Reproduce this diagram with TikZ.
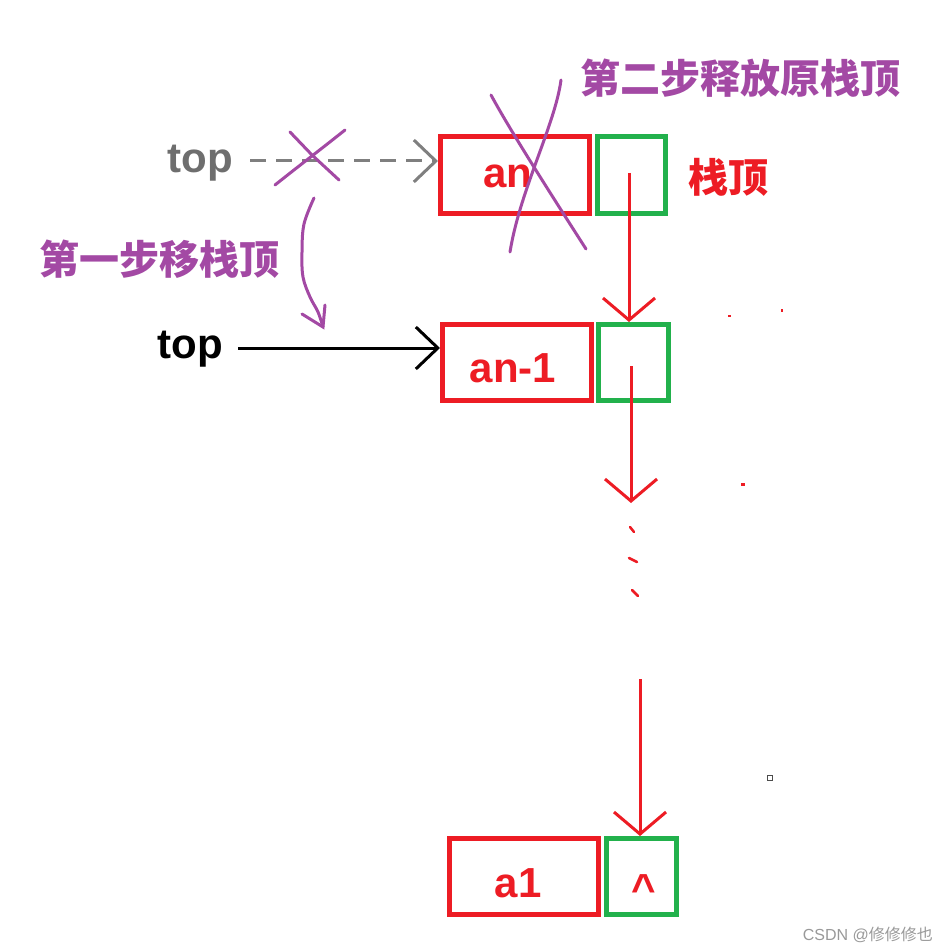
\documentclass[tikz,border=0pt]{standalone}
\usepackage{fontspec}
\setmainfont{Liberation Sans}
\newfontfamily\cjk{Noto Sans CJK SC}
\usetikzlibrary{arrows.meta}
\definecolor{pred}{RGB}{237,28,36}
\definecolor{pgreen}{RGB}{34,177,76}
\definecolor{ppurple}{RGB}{163,73,164}
\definecolor{pgray}{RGB}{127,127,127}
\definecolor{tgray}{RGB}{110,110,110}
\begin{document}
\begin{tikzpicture}[x=1pt,y=-1pt,
  databox/.style={draw=pred,line width=5pt,minimum width=149pt,minimum height=76pt,inner sep=0pt},
  ptrbox/.style={draw=pgreen,line width=5pt,minimum height=76pt,inner sep=0pt},
  dtext/.style={text=pred,font=\fontsize{42}{42}\selectfont\bfseries,anchor=base,inner sep=0pt},
  toptext/.style={font=\fontsize{42}{42}\selectfont\bfseries,anchor=base,inner sep=0pt},
  cjklabel/.style={font=\cjk\fontsize{40}{40}\selectfont\bfseries,anchor=base,inner sep=0pt},
  redarrow/.style={draw=pred,line width=3pt,-{Straight Barb[length=22pt,width=52pt,line width=3pt]}},
  ptrarrow/.style={line width=3pt,-{Straight Barb[length=22pt,width=42pt,line width=3pt]}},
  pstroke/.style={draw=ppurple,line width=3pt,line cap=round},
  speck/.style={fill=pred,draw=none}
]
\path[use as bounding box,fill=white] (0,0) rectangle (950,952);

% boxes
\node[databox] (an) at (515,175) {};
\node[ptrbox,minimum width=68pt] (ang) at (631.5,175) {};
\node[databox] (an1) at (517,362.5) {};
\node[ptrbox,minimum width=70pt] (an1g) at (633.5,362.5) {};
\node[databox] (a1) at (524,876.5) {};
\node[ptrbox,minimum width=70pt] (a1g) at (641.5,876.5) {};

% box texts
\node[dtext] (tan) at (508,187) {an};
\node[dtext] (tan1) at (513,382) {an-1};
\node[dtext] (ta1) at (518,897) {a1};
\node[dtext] (tnull) at (644,903) {\textasciicircum};

% top pointers
\node[toptext,text=tgray] (oldtop) at (200,173) {top};
\node[toptext,text=black] (newtop) at (190,358) {top};
\coordinate (oldtopE) at (250,161);
\coordinate (newtopE) at (238,348);
\draw[ptrarrow,draw=pgray,dash pattern=on 16pt off 10pt] (oldtopE) -- (an.west |- oldtopE);
\draw[ptrarrow,draw=black] (newtopE) -- (an1.west |- newtopE);

% red next-pointers
\coordinate (s1) at (629,173);
\coordinate (s2) at (631,366);
\coordinate (e2) at (631,503);
\coordinate (s3) at (640,679);
\draw[redarrow] (s1) -- (s1 |- an1g.north);
\draw[redarrow] (s2) -- (e2);
\draw[redarrow] (s3) -- (s3 |- a1g.north);

% ellipsis strokes
\draw[pred,line width=2.5pt,line cap=round] (630,527) -- (634,532);
\draw[pred,line width=2.5pt,line cap=round] (629,558) -- (637,562);
\draw[pred,line width=2.5pt,line cap=round] (632,590) -- (638,596);

% specks
\fill[speck] (728,315) rectangle (731,317);
\fill[speck] (781,309) rectangle (783,312);
\fill[speck] (741,483) rectangle (745,486);
\draw[gray!60!black,line width=1pt] (767.5,775.5) rectangle (772.5,780.5);

% labels
\node[cjklabel,text=ppurple] (step2) at (740,94) {第二步释放原栈顶};
\node[cjklabel,text=ppurple] (step1) at (159,274) {第一步移栈顶};
\node[cjklabel,text=pred] (sttop) at (728,193) {栈顶};

% purple crosses
\draw[pstroke] (290,132) -- (312,155) -- (339,180);
\draw[pstroke] (345,130) .. controls (320,150) and (300,165) .. (275,185);
\draw[pstroke] (491,95) .. controls (510,130) and (545,185) .. (586,249);
\draw[pstroke] (561,80) .. controls (555,125) and (520,190) .. (510,252);

% purple move arrow
\coordinate (mv0) at (314,198);
\coordinate (mv1) at (323,327);
\draw[pstroke] plot[smooth,tension=0.6] coordinates {(mv0) (304,224) (302,252) (303,277) (310,297) (318,312) (mv1)};
\draw[pstroke] (302,314) -- (mv1) -- (325,305);

% watermark
\node[anchor=base east,inner sep=0pt,text=gray!80,font=\fontsize{16}{16}\selectfont] (wm) at (933,940) {CSDN @{\cjk 修修修也}};
\end{tikzpicture}
\end{document}
